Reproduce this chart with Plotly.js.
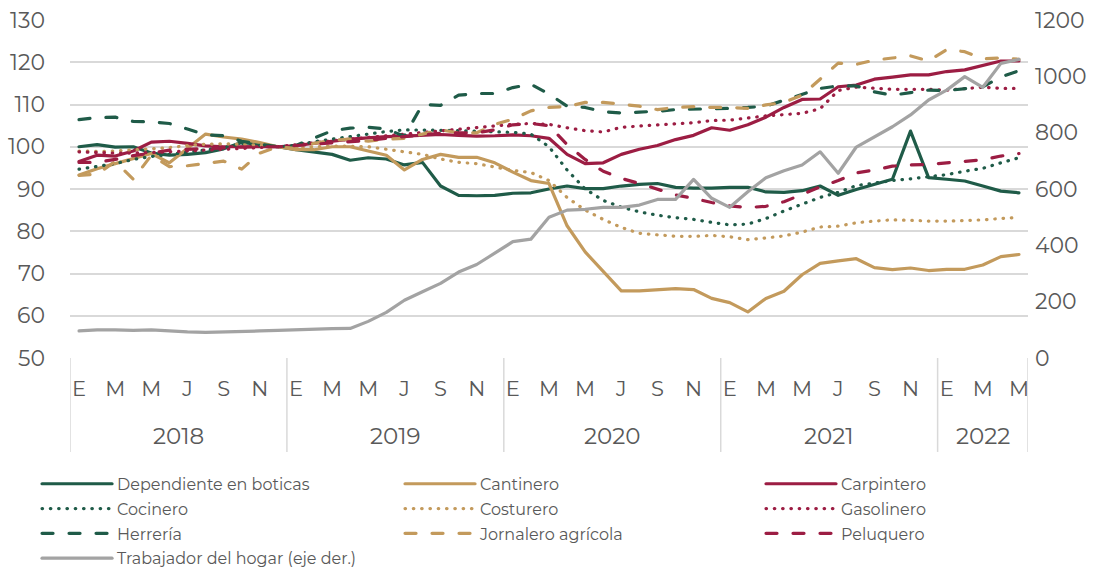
<!DOCTYPE html>
<html lang="es">
<head>
<meta charset="utf-8">
<title>Índices por ocupación 2018-2022</title>
<script src="https://cdn.plot.ly/plotly-3.0.1.min.js"></script>
<style>
  html, body { margin: 0; padding: 0; background: #fff; }
  #chart { width: 1112px; height: 572px; }
  /* Excel draws round dots / round-ended dashes */
  #chart path.js-line { stroke-linecap: round; stroke-linejoin: round; }
</style>
</head>
<body>
<div id="chart"></div>
<script>
(function () {
    'use strict';

    // Monthly series, Jan 2018 .. May 2022 (53 months)
    var YEARS = ['2018', '2019', '2020', '2021', '2022'];
    var MONTHS_IN_YEAR = [12, 12, 12, 12, 5];
    var MONTH_LETTERS = ['E', 'F', 'M', 'A', 'M', 'J', 'J', 'A', 'S', 'O', 'N', 'D'];

    var DEPENDIENTE = [100, 100.5, 99.9, 100, 98.5, 98, 98.2, 98.6, 99.5, 101, 100.5, 100,
        99.3, 98.8, 98.2, 96.8, 97.4, 97.1, 95.7, 96.3, 90.7, 88.5, 88.4, 88.5,
        89, 89.1, 90, 90.7, 90.1, 90.1, 90.7, 91.1, 91.3, 90.4, 90.2, 90.2,
        90.4, 90.4, 89.3, 89.2, 89.6, 90.7, 88.5, 89.9, 91.1, 92.3, 103.7, 92.7,
        92.3, 91.9, 90.7, 89.5, 89.1];
    var CANTINERO = [93.3, 94.8, 96, 97.2, 98.4, 96.2, 99.5, 103, 102.3, 101.8, 101, 100,
        99.3, 99.3, 100, 100, 99, 98, 94.5, 97, 98.2, 97.5, 97.5, 96.2,
        94, 92, 91.3, 81.3, 75.1, 70.5, 65.9, 65.9, 66.2, 66.4, 66.2, 64.1,
        63.1, 60.9, 64.1, 65.8, 69.7, 72.4, 73, 73.5, 71.4, 70.9, 71.3, 70.7,
        71, 71, 72, 74, 74.5];
    var CARPINTERO = [96.5, 98, 97.8, 99, 101.1, 101.3, 100.8, 100.2, 100, 100, 100, 100,
        100.3, 100.8, 101.3, 101.8, 102.1, 102.4, 102.5, 102.7, 102.9, 102.7, 102.5, 102.6,
        102.8, 102.6, 102, 98.2, 96, 96.2, 98.2, 99.4, 100.3, 101.7, 102.7, 104.5,
        103.9, 105.2, 107, 109.3, 111.2, 111.3, 114.2, 114.6, 116, 116.5, 117, 117,
        117.8, 118.2, 119.2, 120.3, 120.3];
    var COCINERO = [94.7, 95.3, 96, 97, 97.7, 98.2, 98.7, 99.2, 99.8, 100.7, 100.3, 100,
        100.3, 101.2, 101.8, 102.4, 103, 103.6, 104, 104, 103.9, 103.8, 103.7, 103.5,
        103.4, 103, 100, 94.5, 90, 87.3, 85.7, 84.6, 83.8, 83.2, 82.8, 82.1,
        81.5, 81.7, 83, 84.8, 86.4, 88, 89.2, 90.8, 91.4, 92, 92.4, 92.9,
        93.4, 94.2, 94.9, 96.2, 97.4];
    var COSTURERO = [99, 98.9, 99, 99.2, 99.5, 99.8, 100.3, 100.6, 100.7, 100.6, 100.3, 100,
        99.8, 100, 100.2, 100.1, 100, 99.4, 98.8, 98.2, 97.1, 96.3, 96, 95.2,
        94.4, 93.9, 92, 88, 85, 82.8, 80.9, 79.5, 79.1, 78.8, 78.8, 79,
        78.7, 78, 78.4, 78.9, 79.8, 81, 81.2, 82, 82.4, 82.7, 82.6, 82.4,
        82.4, 82.5, 82.7, 83, 83.3];
    var GASOLINERO = [98.8, 98.6, 98.5, 98.5, 98.6, 98.8, 99, 99.2, 99.3, 99.5, 99.8, 100,
        100.5, 101, 101.4, 101.8, 102.2, 102.6, 103, 103.4, 103.8, 104.2, 104.6, 105,
        105.3, 105.5, 105.3, 104.5, 103.8, 103.5, 104.6, 104.9, 105.2, 105.4, 105.7, 106.2,
        106.3, 106.8, 107.3, 107.6, 107.9, 109, 113.3, 114.1, 113.8, 113.6, 113.6, 113.6,
        113.4, 113.8, 114.1, 113.8, 113.8];
    var HERRERIA = [106.4, 106.9, 107, 106, 105.9, 105.5, 104.2, 102.8, 102.6, 101.3, 100.6, 100,
        100.3, 102, 103.8, 104.4, 104.6, 104.2, 102.5, 110, 109.8, 112.2, 112.6, 112.6,
        114, 114.8, 112.5, 109.6, 109.3, 108.3, 108, 108.2, 108.4, 108.8, 108.9, 108.9,
        109.1, 109.3, 109.6, 111, 112.3, 113.8, 114.4, 114.4, 113, 112.2, 112.8, 113.4,
        113.3, 113.8, 114.2, 116.5, 118];
    var JORNALERO = [93.2, 93.5, 96.5, 92.3, 98, 95.3, 95.5, 96, 96.6, 94.7, 98.5, 100,
        99.6, 100.8, 101.5, 101.8, 101.3, 101.8, 102, 103, 104, 103.3, 103.3, 105.3,
        106.5, 108.5, 109.3, 109.5, 110.5, 110.5, 110, 109.6, 108.8, 109.3, 109.5, 109.3,
        109.3, 109.1, 109.9, 110.5, 112.2, 116, 119.8, 119.5, 120.5, 121, 121.5, 120.3,
        123, 122.5, 120.8, 121, 120.7];
    var PELUQUERO = [96.3, 96.3, 97, 97.9, 98.5, 99.2, 99.4, 99.6, 99.8, 99.9, 100, 100,
        100.3, 100.6, 100.9, 101.2, 101.5, 102, 102.4, 102.8, 103.2, 103.3, 103.3, 104,
        105.2, 105.5, 105, 100.5, 97, 94.2, 92.5, 91.3, 90, 88.6, 87.8, 86.8,
        86, 85.6, 85.9, 87, 88.7, 90.5, 92, 93.8, 94.5, 95.4, 95.7, 95.8,
        96.2, 96.5, 96.9, 97.8, 98.4];
    // right axis
    var TRABAJADOR = [96, 100, 100, 98, 100, 96, 93, 91, 92, 94, 96, 98,
        100, 104, 104, 105, 130, 162, 205, 235, 265, 305, 332, 372,
        413, 422, 500, 525, 528, 535, 535, 543, 563, 563, 634, 567,
        535, 590, 640, 665, 685, 732, 656, 749, 785, 821, 863, 916,
        951, 999, 961, 1046, 1060];

    var GREEN = '#1F5B48', TAN = '#C39A5C', RED = '#9C1D43', GRAY = '#A3A3A3';
    var INK = '#595959', GRID = '#D9D9D9';
    var FAMILY = 'Montserrat, "Noto Sans", "Open Sans", sans-serif';
    var DOT = '0.5px,7.8px', DASH = '11px,16px';

    // col = legend column (Excel legend reads row by row, 3 across)
    var SERIES = [
        { name: 'Dependiente en boticas', y: DEPENDIENTE, color: GREEN, dash: 'solid', col: 1 },
        { name: 'Cantinero', y: CANTINERO, color: TAN, dash: 'solid', col: 2 },
        { name: 'Carpintero', y: CARPINTERO, color: RED, dash: 'solid', col: 3 },
        { name: 'Cocinero', y: COCINERO, color: GREEN, dash: DOT, col: 1 },
        { name: 'Costurero', y: COSTURERO, color: TAN, dash: DOT, col: 2 },
        { name: 'Gasolinero', y: GASOLINERO, color: RED, dash: DOT, col: 3 },
        { name: 'Herrería', y: HERRERIA, color: GREEN, dash: DASH, col: 1 },
        { name: 'Jornalero agrícola', y: JORNALERO, color: TAN, dash: DASH, col: 2 },
        { name: 'Peluquero', y: PELUQUERO, color: RED, dash: DASH, col: 3 },
        { name: 'Trabajador del hogar (eje der.)', y: TRABAJADOR, color: GRAY, dash: 'solid', col: 1, right: true },
    ];

    // month index axis + tick letters every other month
    var x = [], tickvals = [], ticktext = [], bounds = [-0.5], n = 0;
    MONTHS_IN_YEAR.forEach(function (cnt) {
        for (var m = 0; m < cnt; m++) {
            x.push(n);
            if (m % 2 === 0) { tickvals.push(n); ticktext.push(MONTH_LETTERS[m]); }
            n++;
        }
        bounds.push(n - 0.5);
    });

    var traces = SERIES.map(function (s, i) {
        return {
            type: 'scatter', mode: 'lines', name: s.name,
            x: x, y: s.y, yaxis: s.right ? 'y2' : 'y',
            legend: s.col === 1 ? 'legend' : 'legend' + s.col,
            legendgroup: 'g' + i,
            line: { color: s.color, width: 3.2, dash: s.dash },
            hoverinfo: 'name+y',
        };
    });

    var SEP_DEPTH = -0.278;
    var shapes = bounds.map(function (b) {
        return {
            type: 'line', xref: 'x', yref: 'paper', x0: b, x1: b, y0: 0, y1: SEP_DEPTH,
            line: { color: GRID, width: 1.5 },
        };
    });
    var annotations = YEARS.map(function (yr, i) {
        return {
            text: yr, xref: 'x', yref: 'paper', x: (bounds[i] + bounds[i + 1]) / 2, y: -0.232,
            showarrow: false, yanchor: 'middle', font: { family: FAMILY, size: 23, color: INK },
        };
    });

    function legendAt(xp) {
        return {
            orientation: 'v', x: xp, xanchor: 'left', y: -0.322, yanchor: 'top',
            itemwidth: 70, tracegroupgap: 1, bgcolor: 'rgba(0,0,0,0)',
            font: { family: FAMILY, size: 16, color: INK }, traceorder: 'grouped',
        };
    }

    var layout = {
        width: 1112, height: 572,
        margin: { l: 70, r: 84, t: 20, b: 214, autoexpand: false },
        paper_bgcolor: '#fff', plot_bgcolor: '#fff',
        font: { family: FAMILY, color: INK },
        showlegend: true,
        legend: legendAt(-0.0344),
        legend2: legendAt(0.3445),
        legend3: legendAt(0.7213),
        xaxis: {
            range: [-0.5, n - 0.5], tickmode: 'array', tickvals: tickvals, ticktext: ticktext,
            showgrid: false, zeroline: false, showline: false, ticks: '',
            tickfont: { family: FAMILY, size: 21, color: INK }, ticklabelstandoff: 16,
            fixedrange: true,
        },
        yaxis: {
            range: [50, 130], dtick: 10, showgrid: true, gridcolor: GRID, gridwidth: 1.5,
            zeroline: false, showline: false, ticks: '',
            tickfont: { family: FAMILY, size: 22, color: INK }, ticklabelstandoff: 24,
        },
        yaxis2: {
            overlaying: 'y', side: 'right', range: [0, 1200], dtick: 200, showgrid: false,
            zeroline: false, showline: false, ticks: '',
            tickfont: { family: FAMILY, size: 22, color: INK }, ticklabelstandoff: 6,
        },
        shapes: shapes,
        annotations: annotations,
    };

    Plotly.newPlot('chart', traces, layout, { displayModeBar: false, responsive: false });
})();
</script>
</body>
</html>
